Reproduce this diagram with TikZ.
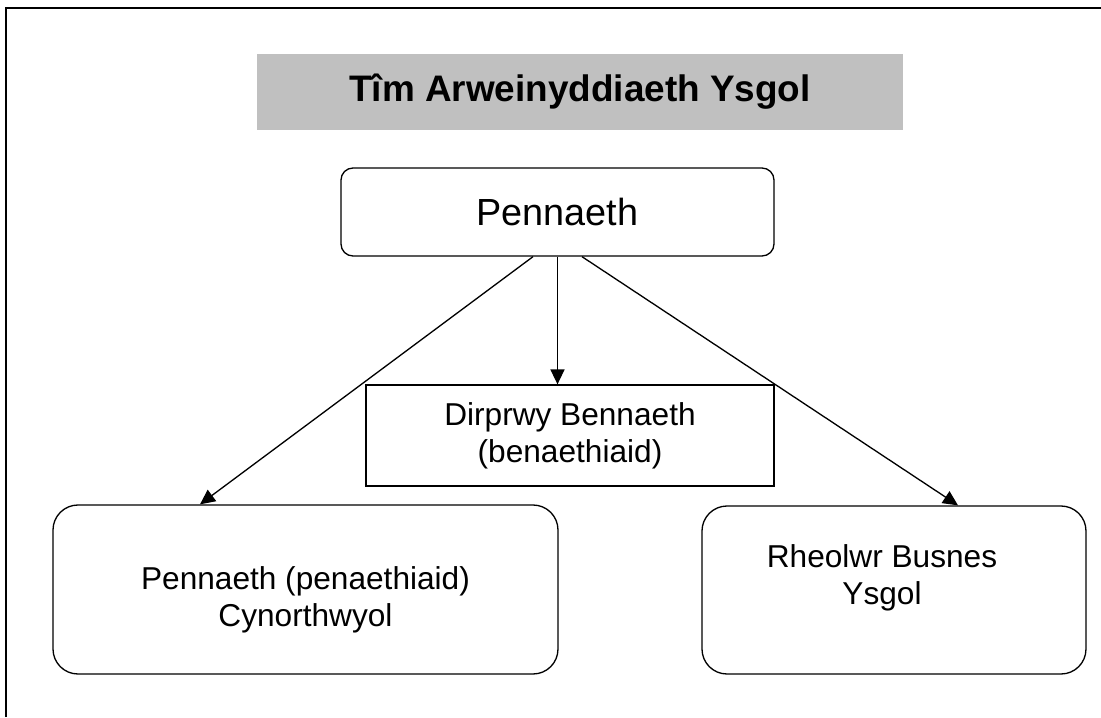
\documentclass[tikz,border=0pt]{standalone}
\usepackage{fontspec}
\setmainfont{Liberation Sans}
\usetikzlibrary{arrows.meta,positioning}
\definecolor{titlegrey}{HTML}{C0C0C0}
\tikzset{box/.style={draw,line width=0.75pt,inner sep=0pt,align=center,font=\fontsize{18}{21}\selectfont},
         rbox/.style={box,rounded corners=0.5cm},
         lbl/.style={align=center,inner sep=0pt,font=\fontsize{18}{21}\selectfont}}

\begin{document}
\begin{tikzpicture}[>={Triangle[length=8.5pt,width=8pt]}]
        \useasboundingbox (0,0) rectangle (22.02,-14.34);
        \draw [line width=1pt] (0.12,-14.34) |- (22.02,-0.16);

        \node[fill=titlegrey,minimum width=12.92cm,minimum height=1.52cm,inner sep=0pt,font=\fontsize{21}{25}\bfseries] (title)at (11.6,-1.84) {Tîm Arweinyddiaeth Ysgol};
        \node[box,rounded corners=0.24cm,minimum width=8.66cm,minimum height=1.76cm,font=\fontsize{21.5}{25}\selectfont] (pen)at (11.15,-4.24) {Pennaeth};
        \node[box,minimum width=8.16cm,minimum height=2.02cm] (dep)at (11.4,-8.71) {Dirprwy Bennaeth\\(benaethiaid)};
        \node[rbox,minimum width=10.1cm,minimum height=3.38cm] (asst)at (6.11,-11.79) {};
        \node[rbox,minimum width=7.68cm,minimum height=3.36cm] (bus)at (17.88,-11.8) {};
        \node[lbl] (asstl)at ([yshift=-0.21cm]asst.center) {Pennaeth (penaethiaid)\\Cynorthwyol};
        \node[lbl] (busl)at ([xshift=-0.24cm,yshift=0.24cm]bus.center) {Rheolwr Busnes\\Ysgol};

        \draw [->,line width=0.75pt] ([xshift=-0.49cm]pen.south) to (asst.north -| 4,0);
        \draw [->,line width=0.75pt] (pen.south) to (pen.south |- dep.north);
        \draw [->,line width=0.75pt] ([xshift=0.49cm]pen.south) to (bus.north -| 19.16,0);
    \end{tikzpicture}
\end{document}
